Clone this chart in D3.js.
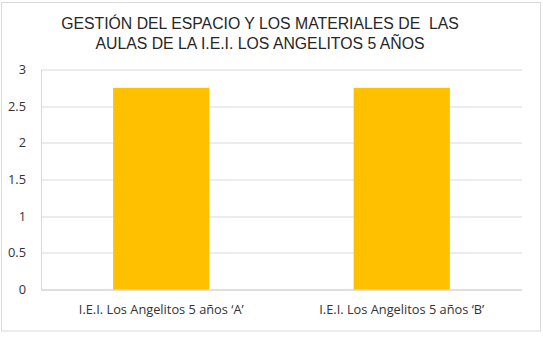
<!DOCTYPE html>
<html>
<head>
<meta charset="utf-8">
<script src="https://cdn.jsdelivr.net/npm/d3@7"></script>
<style>
  body { margin: 0; background: #fff; }
  svg { display: block; }
</style>
</head>
<body>
<svg id="drawing_region"></svg>
<script>
const categories = ['I.E.I. Los Angelitos 5 años ‘A’', 'I.E.I. Los Angelitos 5 años ‘B’'];
const values = [2.75, 2.75];
const yTicks = [0, 0.5, 1, 1.5, 2, 2.5, 3];
const titleLines = ['GESTIÓN DEL ESPACIO Y LOS MATERIALES DE  LAS', 'AULAS DE LA I.E.I. LOS ANGELITOS 5 AÑOS'];

const width = 543, height = 341;
const margin = {top: 69.5, right: 21, bottom: 51.5, left: 41};
const innerW = width - margin.left - margin.right;
const innerH = height - margin.top - margin.bottom;

const svg = d3.select('#drawing_region')
    .attr('width', width)
    .attr('height', height);

// outer chart border
svg.append('rect')
    .attr('x', 1.5).attr('y', 2.5)
    .attr('width', 539).attr('height', 328.5)
    .attr('fill', '#fff')
    .attr('stroke', '#d9d9d9');

svg.append('text')
    .attr('text-anchor', 'middle')
    .attr('font-family', 'Liberation Sans, Arial, sans-serif')
    .attr('font-size', 15.8)
    .attr('fill', '#262626')
    .style('white-space', 'pre')
    .selectAll('tspan')
    .data(titleLines)
    .join('tspan')
    .attr('x', 260)
    .attr('y', (d, i) => 29 + i * 19.5)
    .text(d => d);

const chart = svg.append('g')
    .attr('transform', `translate(${margin.left}, ${margin.top})`);

const xscale = d3.scaleBand()
    .domain(categories)
    .range([0, innerW])
    .paddingInner(0.6)
    .paddingOuter(0.3);

const yscale = d3.scaleLinear()
    .domain([0, 3])
    .range([innerH, 0]);

// gridlines
chart.append('g')
    .selectAll('line')
    .data(yTicks)
    .join('line')
    .attr('x1', 0).attr('x2', innerW)
    .attr('y1', d => Math.round(yscale(d)) + 0.5)
    .attr('y2', d => Math.round(yscale(d)) + 0.5)
    .attr('stroke', d => d === 0 ? '#bfbfbf' : '#d9d9d9');

// left edge line
chart.append('line')
    .attr('x1', 0.5).attr('x2', 0.5)
    .attr('y1', 0).attr('y2', innerH)
    .attr('stroke', '#d9d9d9');

const yaxis = d3.axisLeft(yscale)
    .tickValues(yTicks)
    .tickSize(0)
    .tickPadding(15)
    .tickFormat(d3.format('~g'));

const yg = chart.append('g').call(yaxis);
yg.select('.domain').remove();
yg.selectAll('text')
    .attr('font-family', 'Open Sans, sans-serif')
    .attr('font-size', 12.8)
    .attr('fill', '#333');

chart.append('g')
    .selectAll('rect')
    .data(values)
    .join('rect')
    .attr('x', (d, i) => xscale(categories[i]))
    .attr('y', d => yscale(d))
    .attr('width', xscale.bandwidth())
    .attr('height', d => innerH - yscale(d))
    .attr('fill', '#ffc000');

const xaxis = d3.axisBottom(xscale)
    .tickSize(0)
    .tickPadding(15);

const xg = chart.append('g')
    .attr('transform', `translate(0, ${innerH})`)
    .call(xaxis);
xg.select('.domain').remove();
xg.selectAll('text')
    .attr('font-family', 'Open Sans, sans-serif')
    .attr('font-size', 12.8)
    .attr('fill', '#333');
</script>
</body>
</html>
